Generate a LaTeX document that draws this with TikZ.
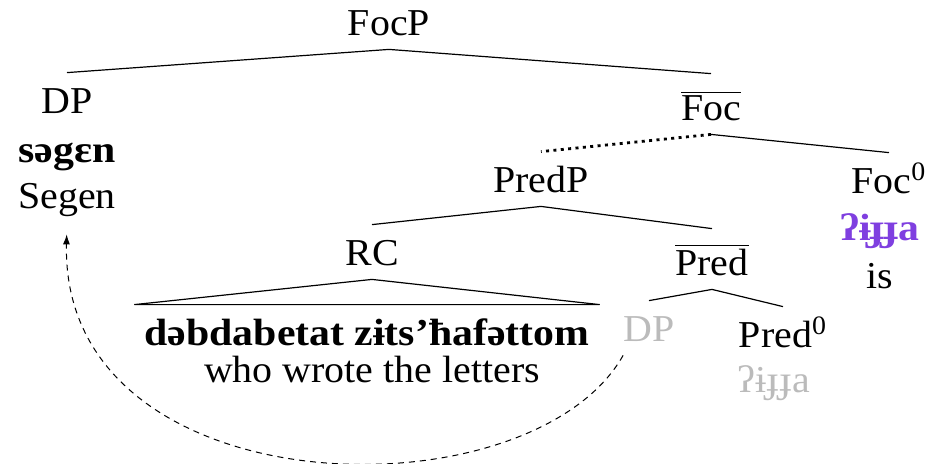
\documentclass[tikz,border=0pt]{standalone}
\usepackage{fontspec}
\setmainfont{Liberation Serif}[FakeStretch=1.05,BoldFeatures={FakeStretch=1.1}]
\usetikzlibrary{arrows.meta,positioning,calc}
\definecolor{focpurple}{HTML}{7F3FE0}
\definecolor{trace}{HTML}{BBBBBB}
\tikzset{
  >=Latex,
  branch/.style={line width=.6pt},
  % ラベル
  lbl/.style={font=\fontsize{19}{23}\selectfont,inner sep=0pt,anchor=base,
              text height=20pt,text depth=7pt},
  barlbl/.style={lbl,text height=23pt},
  word/.style={lbl,font=\fontsize{19}{23}\selectfont\bfseries},
  ghost/.style={lbl,text=trace},
  movement/.style={line width=.5pt,dash pattern=on 3pt off 2.5pt}
}
\newcommand{\barred}[1]{$\overline{\mbox{#1}}$}

\begin{document}
\begin{tikzpicture}[x=0.5pt,y=-0.5pt]
  \useasboundingbox (0,0) rectangle (927,463);

  %--- labels
  \node[lbl]    (focp)   at (389,35)  {FocP};
  \node[lbl]    (dp)     at (67,113)  {DP};
  \node[word]   (dpword) at (67,162)  {səgɛn};
  \node[lbl]    (dpgloss) at (67,208) {Segen};
  \node[barlbl] (focbar) at (711,120) {\barred{Foc}};
  \node[lbl]    (predp)  at (541,192) {PredP};
  \node[lbl]    (foc)    at (889,193) {Foc\textsuperscript{0}};
  \node[word,text=focpurple] (focword) at (880,240) {ʔɨɟɟa};
  \node[lbl]    (focgloss) at (880,288) {is};
  \node[lbl]    (rc)     at (372,265) {RC};
  \node[barlbl] (predbar) at (712,275) {\barred{Pred}};
  \node[ghost]  (dpgray) at (649,341) {DP};
  \node[lbl]    (pred)   at (783,347) {Pred\textsuperscript{0}};
  \node[ghost]  (predword) at (774,392) {ʔɨɟɟa};
  \node[word,inner xsep=5pt] (rcword) at (367,345) {dəbdabetat zɨts’ħafəttom};
  \node[lbl]    (rcgloss) at (372,382) {who wrote the letters};

  %--- branches
  \draw[branch] (dp.north) -- (focp.south) -- (focbar.north);
  \draw[branch,line width=1.4pt,dash pattern=on 1.5pt off 2.2pt] (focbar.south) -- (predp.north);
  \draw[branch] (focbar.south) -- (foc.north);
  \draw[branch] (rc.north) -- (predp.south) -- (predbar.north);
  \draw[branch] (dpgray.north) -- (predbar.south) -- (pred.north);
  \draw[branch] (rc.south) -- (rcword.north west) -- (rcword.north east) -- cycle;

  %--- movement
  \draw[movement,-{Latex[length=5pt,width=3.5pt]},shorten >=6pt]
    (dpgray.south west) .. controls (530,520) and (60,510) .. (dpgloss.south);
\end{tikzpicture}
\end{document}
